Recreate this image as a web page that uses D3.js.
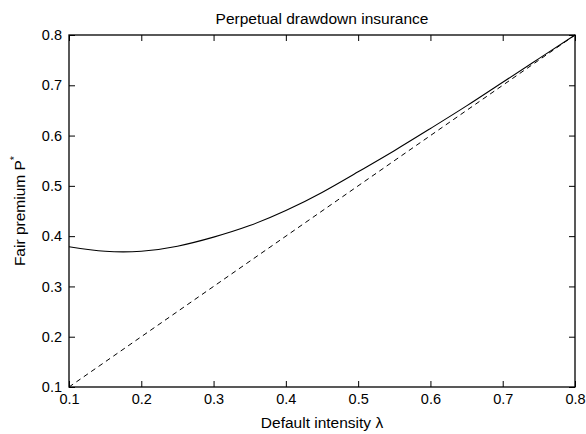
<!DOCTYPE html>
<html><head><meta charset="utf-8">
<script src="https://cdn.jsdelivr.net/npm/d3@7"></script>
<style>body{margin:0;background:#fff}svg{display:block}text{font-family:"Liberation Sans",Arial,sans-serif;fill:#000}</style>
</head><body><svg id="c" width="586" height="434"></svg>
<script>
const lambdas = [0.10,0.15,0.20,0.25,0.30,0.35,0.40,0.45,0.50,0.55,0.60,0.65,0.70,0.75,0.80];
const premium = [0.379,0.370,0.370,0.380,0.398,0.421,0.451,0.487,0.528,0.570,0.614,0.659,0.706,0.753,0.800];
const diagX = [0.1,0.8];
const diagY = [0.1,0.8];
const xTicks = [0.1,0.2,0.3,0.4,0.5,0.6,0.7,0.8];
const yTicks = [0.1,0.2,0.3,0.4,0.5,0.6,0.7,0.8];

const svg = d3.select("#c");
const L=69, R=575, T=35, B=387;
const x = d3.scaleLinear().domain([0.1,0.8]).range([L,R]);
const y = d3.scaleLinear().domain([0.1,0.8]).range([B,T]);

const g = svg.append("g");
const fmt = d3.format(".1f");
const xb = g.append("g").attr("transform",`translate(0,${B})`)
  .call(d3.axisBottom(x).tickValues(xTicks).tickFormat(fmt).tickSizeInner(-6).tickSizeOuter(0).tickPadding(7));
const xt = g.append("g").attr("transform",`translate(0,${T})`)
  .call(d3.axisTop(x).tickValues(xTicks).tickFormat("").tickSizeInner(-6).tickSizeOuter(0));
const yl = g.append("g").attr("transform",`translate(${L},0)`)
  .call(d3.axisLeft(y).tickValues(yTicks).tickFormat(fmt).tickSizeInner(-6).tickSizeOuter(0).tickPadding(7));
const yr = g.append("g").attr("transform",`translate(${R},0)`)
  .call(d3.axisRight(y).tickValues(yTicks).tickFormat("").tickSizeInner(-6).tickSizeOuter(0));
[xb,xt,yl,yr].forEach(a=>{a.select(".domain").remove();a.selectAll("line").attr("stroke","#000");a.selectAll("text").style("font-size","14.5px").attr("font-family",null);});
xb.selectAll("text").attr("dy","0.71em");
g.append("rect").attr("x",L).attr("y",T).attr("width",R-L).attr("height",B-T)
  .attr("fill","none").attr("stroke","#000").attr("stroke-width",1.3);

svg.append("path").datum(diagX.map((d,i)=>[d,diagY[i]]))
  .attr("d",d3.line().x(d=>x(d[0])).y(d=>y(d[1])))
  .attr("fill","none").attr("stroke","#000").attr("stroke-width",1).attr("stroke-dasharray","5,4");
svg.append("path").datum(lambdas.map((d,i)=>[d,premium[i]]))
  .attr("d",d3.line().x(d=>x(d[0])).y(d=>y(d[1])).curve(d3.curveNatural))
  .attr("fill","none").attr("stroke","#000").attr("stroke-width",1.1);

svg.append("text").attr("x",(L+R)/2).attr("y",24).attr("text-anchor","middle").style("font-size","15.5px").text("Perpetual drawdown insurance");
svg.append("text").attr("x",(L+R)/2).attr("y",428).attr("text-anchor","middle").style("font-size","15.5px").text("Default intensity λ");
const yt = svg.append("text").attr("transform",`translate(25,${(T+B)/2}) rotate(-90)`).attr("text-anchor","middle").style("font-size","15.5px");
yt.append("tspan").text("Fair premium P");
yt.append("tspan").attr("dy","-7").style("font-size","11px").text("*");
</script></body></html>
